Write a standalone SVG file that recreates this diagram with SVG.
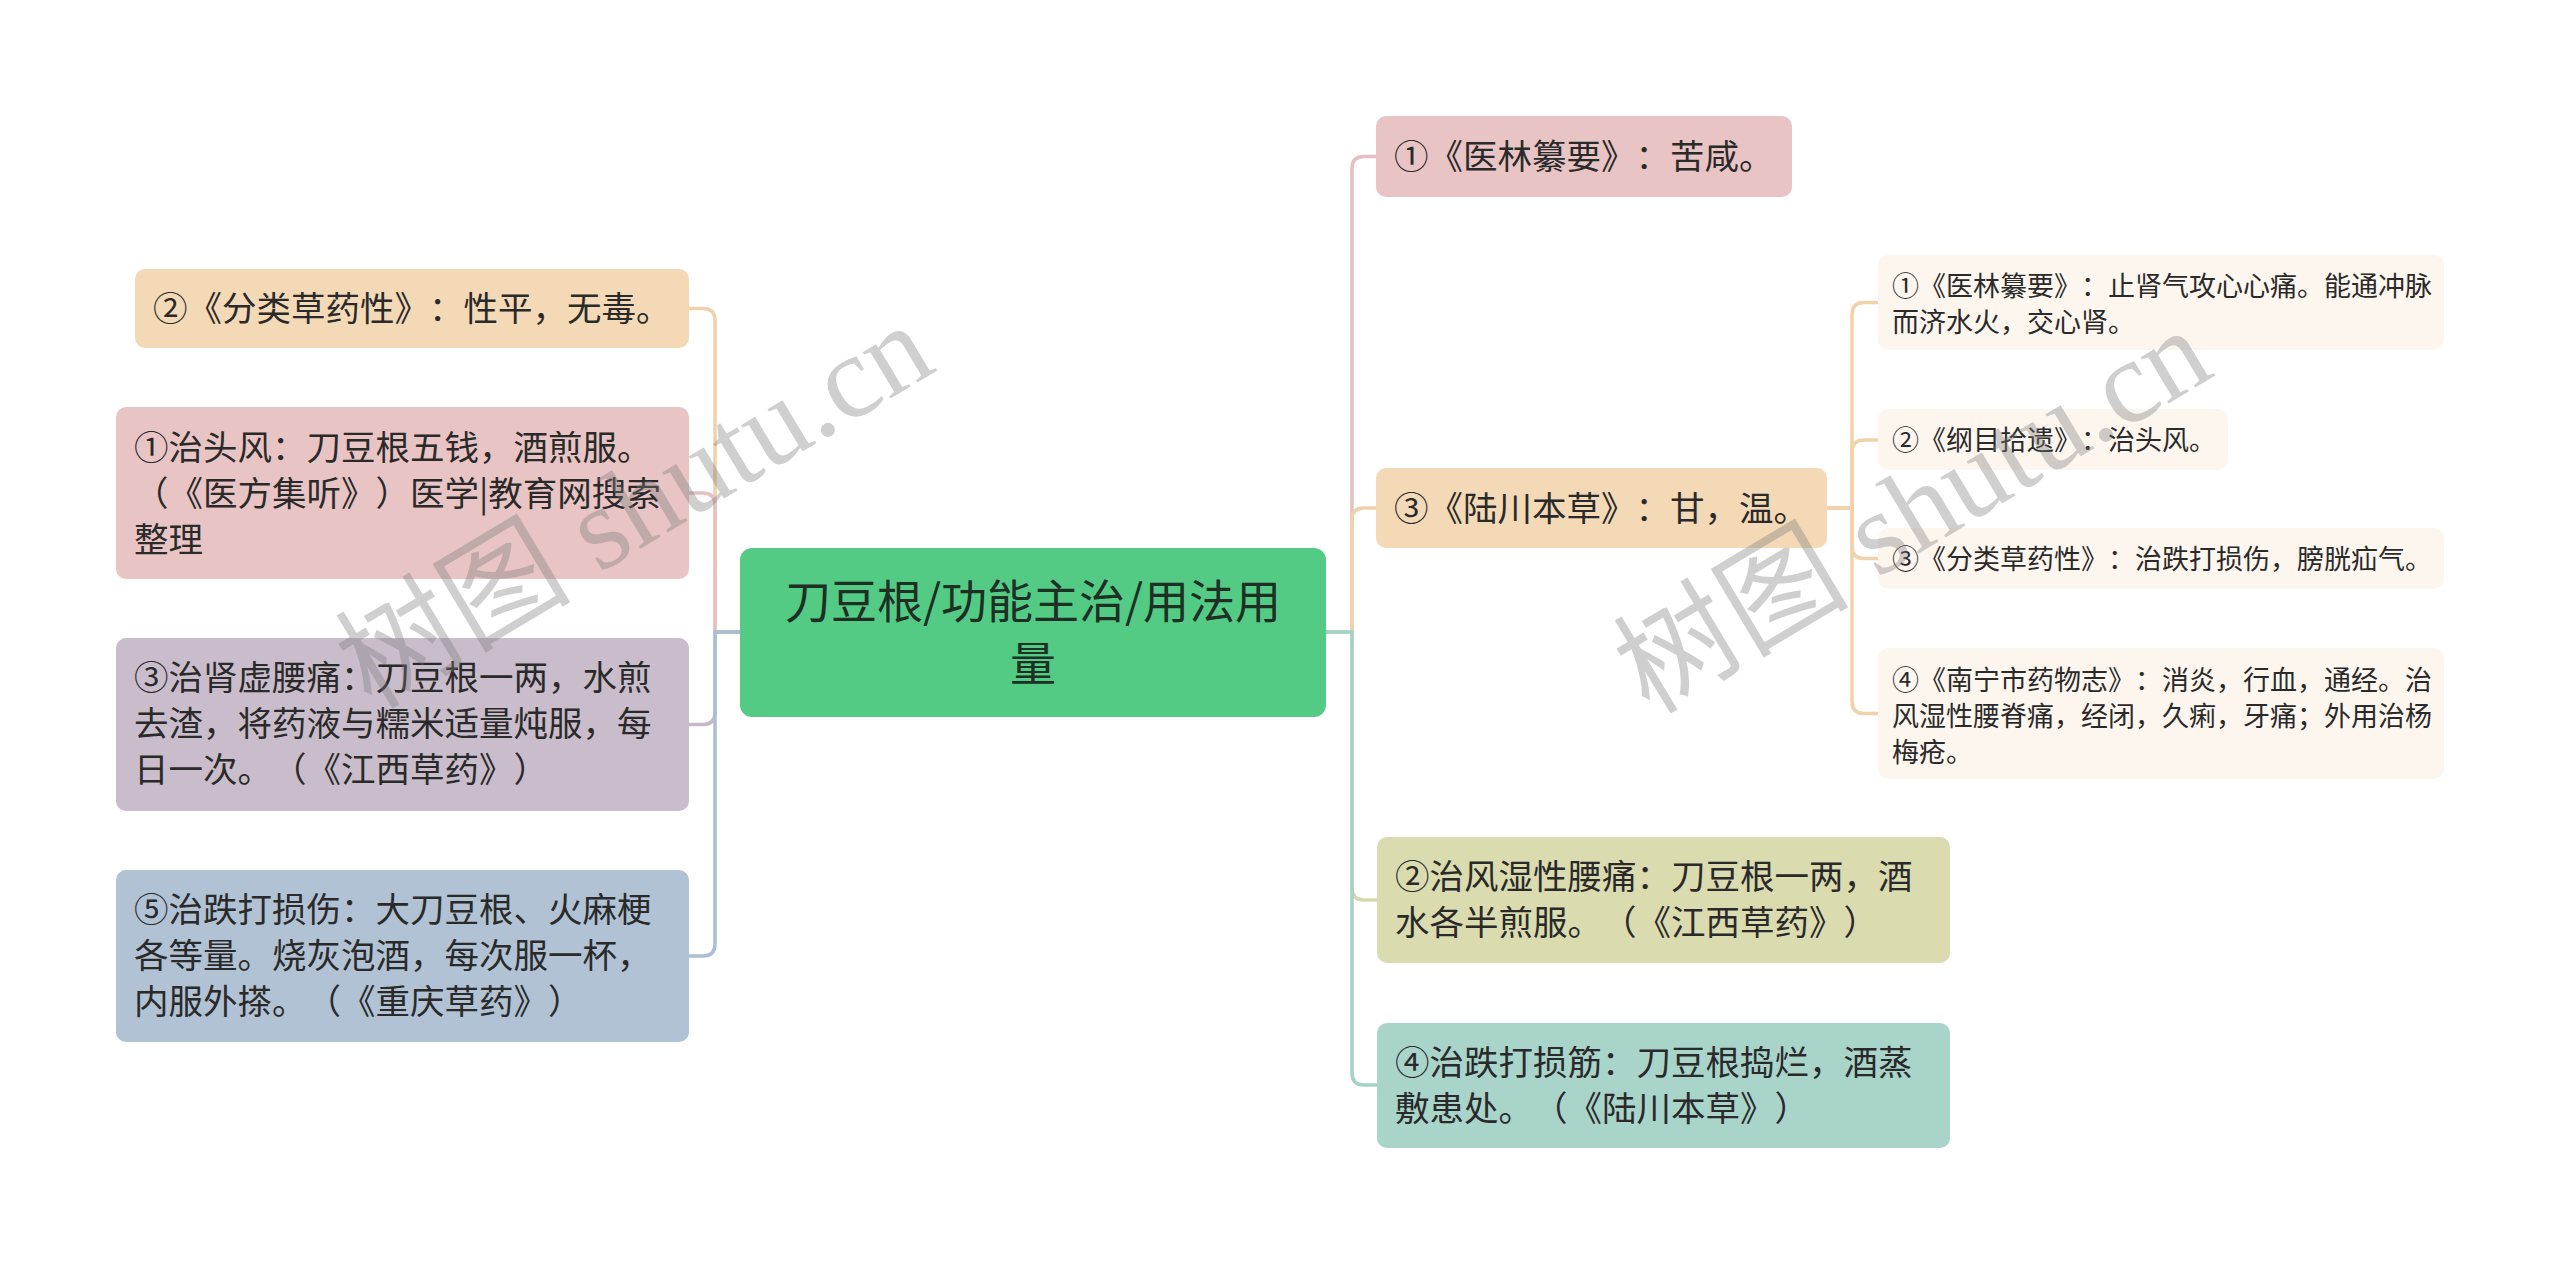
<svg xmlns="http://www.w3.org/2000/svg" width="2560" height="1265" viewBox="0 0 2560 1265">
<style>
  text { font-family: "Noto Sans CJK SC", "Noto Sans", sans-serif; fill: #2a2a2a; text-spacing-trim: space-all; font-kerning: none; }
  .t34 { font-size: 34.5px; }
  .t27 { font-size: 27px; }
  .root { font-size: 46px; fill: #1e2f24; text-anchor: middle; }
  .c { fill: none; stroke-width: 3.5; stroke-linecap: round; }
  .wm { font-family: "Liberation Serif", "Noto Sans CJK SC", serif; font-size: 118px; fill: #7a7a7a; fill-opacity: 0.36; text-anchor: middle; }
</style>
<rect width="2560" height="1265" fill="#ffffff"/>

<g id="connectors">
  <path class="c" stroke="#efd1aa" d="M740,632 H715 V320.5 Q715,308.5 703,308.5 H689"/>
  <path class="c" stroke="#e4c0c0" d="M740,632 H715 V505 Q715,493 703,493 H689"/>
  <path class="c" stroke="#c6b8c9" d="M740,632 H715 V712.5 Q715,724.5 703,724.5 H689"/>
  <path class="c" stroke="#acbed1" d="M740,632 H715 V944 Q715,956 703,956 H689"/>
  <path class="c" stroke="#e4c0c0" d="M1326,632 H1352 V168.5 Q1352,156.5 1364,156.5 H1376"/>
  <path class="c" stroke="#efd1aa" d="M1326,632 H1352 V520 Q1352,508 1364,508 H1376"/>
  <path class="c" stroke="#d7d9aa" d="M1326,632 H1352 V888 Q1352,900 1364,900 H1377"/>
  <path class="c" stroke="#a3d2c7" d="M1326,632 H1352 V1073 Q1352,1085 1364,1085 H1377"/>
  <path class="c" stroke="#f0d2ab" d="M1827,508 H1852 V314.5 Q1852,302.5 1864,302.5 H1878"/>
  <path class="c" stroke="#f0d2ab" d="M1827,508 H1852 V452 Q1852,440 1864,440 H1878"/>
  <path class="c" stroke="#f0d2ab" d="M1827,508 H1852 V546.5 Q1852,558.5 1864,558.5 H1878"/>
  <path class="c" stroke="#f0d2ab" d="M1827,508 H1852 V701.5 Q1852,713.5 1864,713.5 H1878"/>
</g>

<g id="root">
  <rect x="740" y="548" width="586" height="169" rx="12" fill="#53cb85"/>
  <text class="root" x="1033" y="618">刀豆根/功能主治/用法用</text>
  <text class="root" x="1033" y="680">量</text>
</g>

<g id="left-2">
  <rect x="135" y="269" width="554" height="79" rx="10" fill="#f4d9b6"/>
  <text class="t34" x="153" y="321">②《分类草药性》：性平，无毒。</text>
</g>
<g id="left-1">
  <rect x="116" y="407" width="573" height="172" rx="10" fill="#e8c4c4"/>
  <text class="t34" x="134" y="460">①治头风：刀豆根五钱，酒煎服。</text>
  <text class="t34" x="134" y="506">（《医方集听》）医学|教育网搜索</text>
  <text class="t34" x="134" y="552">整理</text>
</g>
<g id="left-3">
  <rect x="116" y="638" width="573" height="173" rx="10" fill="#c9bccb"/>
  <text class="t34" x="134" y="690">③治肾虚腰痛：刀豆根一两，水煎</text>
  <text class="t34" x="134" y="736">去渣，将药液与糯米适量炖服，每</text>
  <text class="t34" x="134" y="782">日一次。（《江西草药》）</text>
</g>
<g id="left-5">
  <rect x="116" y="870" width="573" height="172" rx="10" fill="#b0c2d4"/>
  <text class="t34" x="134" y="922">⑤治跌打损伤：大刀豆根、火麻梗</text>
  <text class="t34" x="134" y="968">各等量。烧灰泡酒，每次服一杯，</text>
  <text class="t34" x="134" y="1014">内服外搽。（《重庆草药》）</text>
</g>

<g id="right-1">
  <rect x="1376" y="116" width="416" height="81" rx="10" fill="#e8c4c4"/>
  <text class="t34" x="1394" y="169">①《医林纂要》：苦咸。</text>
</g>
<g id="right-3">
  <rect x="1376" y="468" width="451" height="80" rx="10" fill="#f4d9b6"/>
  <text class="t34" x="1394" y="521">③《陆川本草》：甘，温。</text>
</g>
<g id="sub-1">
  <rect x="1878" y="255" width="566" height="95" rx="10" fill="#fdf6ee"/>
  <text class="t27" x="1892" y="296">①《医林纂要》：止肾气攻心心痛。能通冲脉</text>
  <text class="t27" x="1892" y="332">而济水火，交心肾。</text>
</g>
<g id="sub-2">
  <rect x="1878" y="409" width="350" height="61" rx="10" fill="#fdf6ee"/>
  <text class="t27" x="1892" y="450">②《纲目拾遗》：治头风。</text>
</g>
<g id="sub-3">
  <rect x="1878" y="528" width="566" height="61" rx="10" fill="#fdf6ee"/>
  <text class="t27" x="1892" y="569">③《分类草药性》：治跌打损伤，膀胱疝气。</text>
</g>
<g id="sub-4">
  <rect x="1878" y="648" width="566" height="131" rx="10" fill="#fdf6ee"/>
  <text class="t27" x="1892" y="690">④《南宁市药物志》：消炎，行血，通经。治</text>
  <text class="t27" x="1892" y="726">风湿性腰脊痛，经闭，久痢，牙痛；外用治杨</text>
  <text class="t27" x="1892" y="762">梅疮。</text>
</g>
<g id="right-2">
  <rect x="1377" y="837" width="573" height="126" rx="10" fill="#dadbaf"/>
  <text class="t34" x="1395" y="889">②治风湿性腰痛：刀豆根一两，酒</text>
  <text class="t34" x="1395" y="935">水各半煎服。（《江西草药》）</text>
</g>
<g id="right-4">
  <rect x="1377" y="1023" width="573" height="125" rx="10" fill="#a8d4ca"/>
  <text class="t34" x="1395" y="1075">④治跌打损筋：刀豆根捣烂，酒蒸</text>
  <text class="t34" x="1395" y="1121">敷患处。（《陆川本草》）</text>
</g>

<g id="watermark">
  <text class="wm" transform="translate(655,540) rotate(-31)">树图 shutu.cn</text>
  <text class="wm" transform="translate(1933,545) rotate(-31)">树图 shutu.cn</text>
</g>
</svg>
